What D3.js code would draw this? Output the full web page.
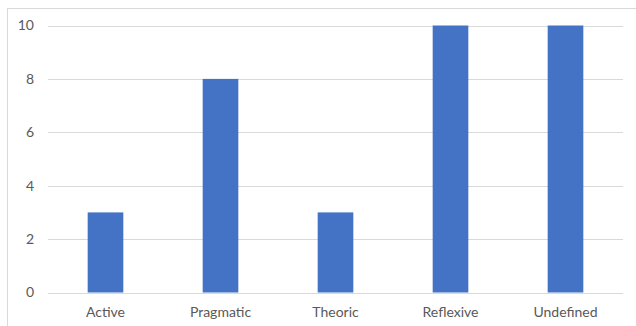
<!DOCTYPE html>
<html>
<head>
<meta charset="utf-8">
<script src="https://cdn.jsdelivr.net/npm/d3@7"></script>
<style>
  html, body { margin: 0; padding: 0; background: #fff; }
  svg { display: block; }
</style>
</head>
<body>
<svg id="chart" width="636" height="326"></svg>
<script>
// Learning-style counts per category
const categories = ["Active", "Pragmatic", "Theoric", "Reflexive", "Undefined"];
const counts = [3, 8, 3, 10, 10];
const yTicks = [0, 2, 4, 6, 8, 10];

const svg = d3.select("#chart");
const W = 636, H = 326;
const margin = { top: 25.5, right: 13, bottom: 33.5, left: 48 };

// chart frame (top and left edges visible)
svg.append("rect")
  .attr("x", 7.5).attr("y", 8.5)
  .attr("width", W + 10).attr("height", H + 10)
  .attr("fill", "#fff")
  .attr("stroke", "#d9d9d9").attr("stroke-width", 1);

const x = d3.scaleBand()
  .domain(categories)
  .range([margin.left, W - margin.right])
  .paddingInner(0.69).paddingOuter(0.345);

const y = d3.scaleLinear()
  .domain([0, 10])
  .range([H - margin.bottom, margin.top]);

// horizontal gridlines
svg.append("g")
  .selectAll("line")
  .data(yTicks)
  .join("line")
  .attr("x1", margin.left).attr("x2", W - margin.right)
  .attr("y1", d => Math.round(y(d)) + 0.5).attr("y2", d => Math.round(y(d)) + 0.5)
  .attr("stroke", "#d9d9d9").attr("stroke-width", 1);

// bars
svg.append("g")
  .selectAll("rect")
  .data(categories.map((c, i) => ({ c, v: counts[i] })))
  .join("rect")
  .attr("x", d => x(d.c))
  .attr("width", x.bandwidth())
  .attr("y", d => y(d.v))
  .attr("height", d => y(0) - y(d.v))
  .attr("fill", "#4472c4");

// y axis labels
const yAxis = d3.axisLeft(y).tickValues(yTicks).tickSize(0).tickPadding(14);
const gy = svg.append("g")
  .attr("transform", `translate(${margin.left},0)`)
  .call(yAxis);
gy.select(".domain").remove();

// x axis labels
const xAxis = d3.axisBottom(x).tickSize(0).tickPadding(15);
const gx = svg.append("g")
  .attr("transform", `translate(0,${H - margin.bottom})`)
  .call(xAxis);
gx.select(".domain").remove();

svg.selectAll(".tick text")
  .attr("fill", "#595959")
  .style("font-family", "Lato, 'Open Sans', sans-serif")
  .style("font-size", "14px");
</script>
</body>
</html>
